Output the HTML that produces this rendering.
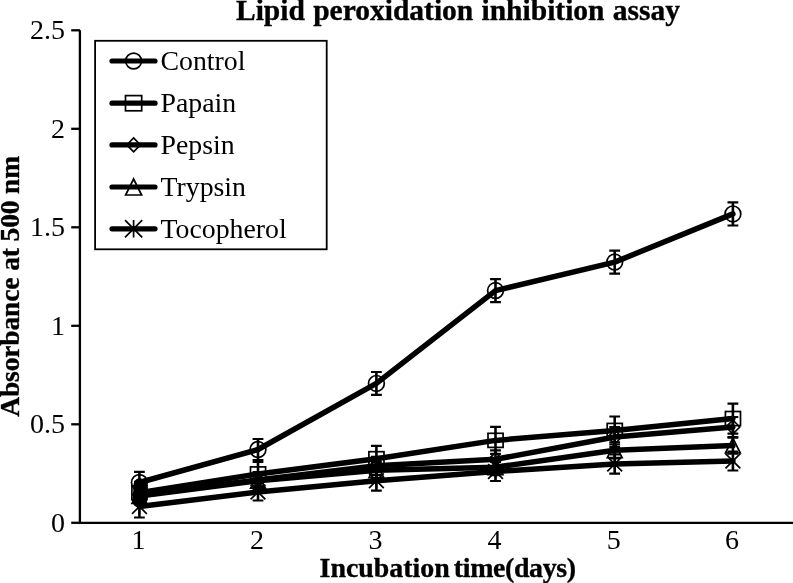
<!DOCTYPE html>
<html><head><meta charset="utf-8"><title>Lipid peroxidation inhibition assay</title>
<style>
html,body{margin:0;padding:0;background:#fff;}
svg{display:block;}
text{font-family:"Liberation Serif","Times New Roman",serif;fill:#000;}
.b{font-weight:bold;}
</style></head><body>
<svg width="793" height="583" viewBox="0 0 793 583">
<rect width="793" height="583" fill="#fff"/>

<text class="b" x="236" y="19.8" font-size="29.5" word-spacing="0.9" stroke="#000" stroke-width="0.35">Lipid peroxidation inhibition assay</text>
<text class="b" x="319.6" y="577.3" font-size="27.9" stroke="#000" stroke-width="0.35">Incubation</text>
<text class="b" x="453.8" y="577.3" font-size="27.9" textLength="122.3" lengthAdjust="spacing" stroke="#000" stroke-width="0.35">time(days)</text>
<text class="b" transform="translate(19.2 416.8) rotate(-90)" font-size="27.5" textLength="261" lengthAdjust="spacing" stroke="#000" stroke-width="0.35">Absorbance at 500 nm</text>
<path d="M79.9 30.3V522.8H793" fill="none" stroke="#000" stroke-width="2.3"/>
<path d="M71.2 522.8H80" stroke="#000" stroke-width="2.3"/>
<text x="65" y="531.8" font-size="28" text-anchor="end">0</text>
<path d="M71.2 424.3H80" stroke="#000" stroke-width="2.3"/>
<text x="65" y="433.3" font-size="28" text-anchor="end">0.5</text>
<path d="M71.2 325.8H80" stroke="#000" stroke-width="2.3"/>
<text x="65" y="334.8" font-size="28" text-anchor="end">1</text>
<path d="M71.2 227.3H80" stroke="#000" stroke-width="2.3"/>
<text x="65" y="236.3" font-size="28" text-anchor="end">1.5</text>
<path d="M71.2 128.8H80" stroke="#000" stroke-width="2.3"/>
<text x="65" y="137.8" font-size="28" text-anchor="end">2</text>
<path d="M71.2 30.3H80" stroke="#000" stroke-width="2.3"/>
<text x="65" y="39.3" font-size="28" text-anchor="end">2.5</text>
<text x="138.4" y="549.2" font-size="28" text-anchor="middle">1</text>
<text x="257.0" y="549.2" font-size="28" text-anchor="middle">2</text>
<text x="375.4" y="549.2" font-size="28" text-anchor="middle">3</text>
<text x="494.5" y="549.2" font-size="28" text-anchor="middle">4</text>
<text x="613.7" y="549.2" font-size="28" text-anchor="middle">5</text>
<text x="731.9" y="549.2" font-size="28" text-anchor="middle">6</text>
<polyline points="139.4,482.5 258.0,449.5 376.4,383.4 495.5,290.6 614.7,262.1 732.9,213.9" fill="none" stroke="#000" stroke-width="5.5" stroke-linejoin="round" stroke-linecap="round"/>
<polyline points="139.4,492.8 258.0,474.0 376.4,458.8 495.5,440.4 614.7,430.5 732.9,418.6" fill="none" stroke="#000" stroke-width="5.5" stroke-linejoin="round" stroke-linecap="round"/>
<polyline points="139.4,494.5 258.0,480.0 376.4,465.8 495.5,459.3 614.7,437.0 732.9,427.0" fill="none" stroke="#000" stroke-width="5.5" stroke-linejoin="round" stroke-linecap="round"/>
<polyline points="139.4,496.0 258.0,480.8 376.4,470.2 495.5,467.2 614.7,450.3 732.9,445.6" fill="none" stroke="#000" stroke-width="5.5" stroke-linejoin="round" stroke-linecap="round"/>
<polyline points="139.4,506.5 258.0,492.0 376.4,480.7 495.5,471.5 614.7,464.0 732.9,461.0" fill="none" stroke="#000" stroke-width="5.5" stroke-linejoin="round" stroke-linecap="round"/>
<path d="M139.4 471.8V493.2" fill="none" stroke="#000" stroke-width="2.6"/>
<path d="M134.0 471.8H144.8M134.0 493.2H144.8" fill="none" stroke="#000" stroke-width="2.2"/>
<circle cx="139.4" cy="482.5" r="7.9" fill="none" stroke="#000" stroke-width="1.7"/>
<path d="M258.0 439.0V460.0" fill="none" stroke="#000" stroke-width="2.6"/>
<path d="M252.6 439.0H263.4M252.6 460.0H263.4" fill="none" stroke="#000" stroke-width="2.2"/>
<circle cx="258.0" cy="449.5" r="7.9" fill="none" stroke="#000" stroke-width="1.7"/>
<path d="M376.4 372.0V394.8" fill="none" stroke="#000" stroke-width="2.6"/>
<path d="M371.0 372.0H381.8M371.0 394.8H381.8" fill="none" stroke="#000" stroke-width="2.2"/>
<circle cx="376.4" cy="383.4" r="7.9" fill="none" stroke="#000" stroke-width="1.7"/>
<path d="M495.5 279.1V302.1" fill="none" stroke="#000" stroke-width="2.6"/>
<path d="M490.1 279.1H500.9M490.1 302.1H500.9" fill="none" stroke="#000" stroke-width="2.2"/>
<circle cx="495.5" cy="290.6" r="7.9" fill="none" stroke="#000" stroke-width="1.7"/>
<path d="M614.7 250.6V273.6" fill="none" stroke="#000" stroke-width="2.6"/>
<path d="M609.3 250.6H620.1M609.3 273.6H620.1" fill="none" stroke="#000" stroke-width="2.2"/>
<circle cx="614.7" cy="262.1" r="7.9" fill="none" stroke="#000" stroke-width="1.7"/>
<path d="M732.9 202.3V225.5" fill="none" stroke="#000" stroke-width="2.6"/>
<path d="M727.5 202.3H738.3M727.5 225.5H738.3" fill="none" stroke="#000" stroke-width="2.2"/>
<circle cx="732.9" cy="213.9" r="7.9" fill="none" stroke="#000" stroke-width="1.7"/>
<path d="M139.4 481.8V503.8" fill="none" stroke="#000" stroke-width="2.6"/>
<path d="M134.0 481.8H144.8M134.0 503.8H144.8" fill="none" stroke="#000" stroke-width="2.2"/>
<rect x="131.9" y="485.7" width="15.1" height="14.1" fill="none" stroke="#000" stroke-width="1.7"/>
<path d="M258.0 462.0V486.0" fill="none" stroke="#000" stroke-width="2.6"/>
<path d="M252.6 462.0H263.4M252.6 486.0H263.4" fill="none" stroke="#000" stroke-width="2.2"/>
<rect x="250.5" y="466.9" width="15.1" height="14.1" fill="none" stroke="#000" stroke-width="1.7"/>
<path d="M376.4 445.8V471.8" fill="none" stroke="#000" stroke-width="2.6"/>
<path d="M371.0 445.8H381.8M371.0 471.8H381.8" fill="none" stroke="#000" stroke-width="2.2"/>
<rect x="368.9" y="451.7" width="15.1" height="14.1" fill="none" stroke="#000" stroke-width="1.7"/>
<path d="M495.5 426.9V453.9" fill="none" stroke="#000" stroke-width="2.6"/>
<path d="M490.1 426.9H500.9M490.1 453.9H500.9" fill="none" stroke="#000" stroke-width="2.2"/>
<rect x="488.0" y="433.3" width="15.1" height="14.1" fill="none" stroke="#000" stroke-width="1.7"/>
<path d="M614.7 416.5V444.5" fill="none" stroke="#000" stroke-width="2.6"/>
<path d="M609.3 416.5H620.1M609.3 444.5H620.1" fill="none" stroke="#000" stroke-width="2.2"/>
<rect x="607.2" y="423.4" width="15.1" height="14.1" fill="none" stroke="#000" stroke-width="1.7"/>
<path d="M732.9 403.6V433.6" fill="none" stroke="#000" stroke-width="2.6"/>
<path d="M727.5 403.6H738.3M727.5 433.6H738.3" fill="none" stroke="#000" stroke-width="2.2"/>
<rect x="725.4" y="411.5" width="15.1" height="14.1" fill="none" stroke="#000" stroke-width="1.7"/>
<path d="M139.4 486.5V502.5" fill="none" stroke="#000" stroke-width="2.6"/>
<path d="M134.0 486.5H144.8M134.0 502.5H144.8" fill="none" stroke="#000" stroke-width="2.2"/>
<path d="M139.4 487.5L146.2 494.5L139.4 501.5L132.6 494.5Z" fill="none" stroke="#000" stroke-width="1.7"/>
<path d="M258.0 472.0V488.0" fill="none" stroke="#000" stroke-width="2.6"/>
<path d="M252.6 472.0H263.4M252.6 488.0H263.4" fill="none" stroke="#000" stroke-width="2.2"/>
<path d="M258.0 473.0L264.8 480.0L258.0 487.0L251.2 480.0Z" fill="none" stroke="#000" stroke-width="1.7"/>
<path d="M376.4 456.8V474.8" fill="none" stroke="#000" stroke-width="2.6"/>
<path d="M371.0 456.8H381.8M371.0 474.8H381.8" fill="none" stroke="#000" stroke-width="2.2"/>
<path d="M376.4 458.8L383.2 465.8L376.4 472.8L369.6 465.8Z" fill="none" stroke="#000" stroke-width="1.7"/>
<path d="M495.5 450.3V468.3" fill="none" stroke="#000" stroke-width="2.6"/>
<path d="M490.1 450.3H500.9M490.1 468.3H500.9" fill="none" stroke="#000" stroke-width="2.2"/>
<path d="M495.5 452.3L502.3 459.3L495.5 466.3L488.7 459.3Z" fill="none" stroke="#000" stroke-width="1.7"/>
<path d="M614.7 427.0V447.0" fill="none" stroke="#000" stroke-width="2.6"/>
<path d="M609.3 427.0H620.1M609.3 447.0H620.1" fill="none" stroke="#000" stroke-width="2.2"/>
<path d="M614.7 430.0L621.5 437.0L614.7 444.0L607.9 437.0Z" fill="none" stroke="#000" stroke-width="1.7"/>
<path d="M732.9 417.0V437.0" fill="none" stroke="#000" stroke-width="2.6"/>
<path d="M727.5 417.0H738.3M727.5 437.0H738.3" fill="none" stroke="#000" stroke-width="2.2"/>
<path d="M732.9 420.0L739.7 427.0L732.9 434.0L726.1 427.0Z" fill="none" stroke="#000" stroke-width="1.7"/>
<path d="M139.4 488.0V504.0" fill="none" stroke="#000" stroke-width="2.6"/>
<path d="M134.0 488.0H144.8M134.0 504.0H144.8" fill="none" stroke="#000" stroke-width="2.2"/>
<path d="M139.4 488.6L146.8 503.4L132.0 503.4Z" fill="none" stroke="#000" stroke-width="1.7"/>
<path d="M258.0 472.8V488.8" fill="none" stroke="#000" stroke-width="2.6"/>
<path d="M252.6 472.8H263.4M252.6 488.8H263.4" fill="none" stroke="#000" stroke-width="2.2"/>
<path d="M258.0 473.4L265.4 488.2L250.6 488.2Z" fill="none" stroke="#000" stroke-width="1.7"/>
<path d="M376.4 462.2V478.2" fill="none" stroke="#000" stroke-width="2.6"/>
<path d="M371.0 462.2H381.8M371.0 478.2H381.8" fill="none" stroke="#000" stroke-width="2.2"/>
<path d="M376.4 462.8L383.8 477.6L369.0 477.6Z" fill="none" stroke="#000" stroke-width="1.7"/>
<path d="M495.5 459.2V475.2" fill="none" stroke="#000" stroke-width="2.6"/>
<path d="M490.1 459.2H500.9M490.1 475.2H500.9" fill="none" stroke="#000" stroke-width="2.2"/>
<path d="M495.5 459.8L502.9 474.6L488.1 474.6Z" fill="none" stroke="#000" stroke-width="1.7"/>
<path d="M614.7 442.3V458.3" fill="none" stroke="#000" stroke-width="2.6"/>
<path d="M609.3 442.3H620.1M609.3 458.3H620.1" fill="none" stroke="#000" stroke-width="2.2"/>
<path d="M614.7 442.9L622.1 457.7L607.3 457.7Z" fill="none" stroke="#000" stroke-width="1.7"/>
<path d="M732.9 437.6V453.6" fill="none" stroke="#000" stroke-width="2.6"/>
<path d="M727.5 437.6H738.3M727.5 453.6H738.3" fill="none" stroke="#000" stroke-width="2.2"/>
<path d="M732.9 438.2L740.3 453.0L725.5 453.0Z" fill="none" stroke="#000" stroke-width="1.7"/>
<path d="M139.4 495.5V517.5" fill="none" stroke="#000" stroke-width="2.6"/>
<path d="M134.0 495.5H144.8M134.0 517.5H144.8" fill="none" stroke="#000" stroke-width="2.2"/>
<path d="M139.4 499.0V514.0M132.0 499.1L146.8 513.9M146.8 499.1L132.0 513.9" fill="none" stroke="#000" stroke-width="1.7"/>
<path d="M258.0 483.5V500.5" fill="none" stroke="#000" stroke-width="2.6"/>
<path d="M252.6 483.5H263.4M252.6 500.5H263.4" fill="none" stroke="#000" stroke-width="2.2"/>
<path d="M258.0 484.5V499.5M250.6 484.6L265.4 499.4M265.4 484.6L250.6 499.4" fill="none" stroke="#000" stroke-width="1.7"/>
<path d="M376.4 470.7V490.7" fill="none" stroke="#000" stroke-width="2.6"/>
<path d="M371.0 470.7H381.8M371.0 490.7H381.8" fill="none" stroke="#000" stroke-width="2.2"/>
<path d="M376.4 473.2V488.2M369.0 473.3L383.8 488.1M383.8 473.3L369.0 488.1" fill="none" stroke="#000" stroke-width="1.7"/>
<path d="M495.5 462.0V481.0" fill="none" stroke="#000" stroke-width="2.6"/>
<path d="M490.1 462.0H500.9M490.1 481.0H500.9" fill="none" stroke="#000" stroke-width="2.2"/>
<path d="M495.5 464.0V479.0M488.1 464.1L502.9 478.9M502.9 464.1L488.1 478.9" fill="none" stroke="#000" stroke-width="1.7"/>
<path d="M614.7 454.4V473.6" fill="none" stroke="#000" stroke-width="2.6"/>
<path d="M609.3 454.4H620.1M609.3 473.6H620.1" fill="none" stroke="#000" stroke-width="2.2"/>
<path d="M614.7 456.5V471.5M607.3 456.6L622.1 471.4M622.1 456.6L607.3 471.4" fill="none" stroke="#000" stroke-width="1.7"/>
<path d="M732.9 451.5V470.5" fill="none" stroke="#000" stroke-width="2.6"/>
<path d="M727.5 451.5H738.3M727.5 470.5H738.3" fill="none" stroke="#000" stroke-width="2.2"/>
<path d="M732.9 453.5V468.5M725.5 453.6L740.3 468.4M740.3 453.6L725.5 468.4" fill="none" stroke="#000" stroke-width="1.7"/>
<path d="M133.5 486Q133.5 479 139.4 478Q146.6 479 147 486V501Q146 507 139.4 507.5Q133 507 132.6 501Z" fill="#000"/>
<rect x="95.1" y="40.8" width="231.6" height="208.5" fill="#fff" stroke="#000" stroke-width="1.8"/>
<path d="M112 61H155" stroke="#000" stroke-width="5.2" stroke-linecap="round"/>
<circle cx="133.6" cy="61.0" r="7.9" fill="none" stroke="#000" stroke-width="1.7"/>
<text x="160.5" y="70.4" font-size="27.8">Control</text>
<path d="M112 103.2H155" stroke="#000" stroke-width="5.2" stroke-linecap="round"/>
<rect x="125.5" y="95.6" width="16.2" height="15.2" fill="none" stroke="#000" stroke-width="1.7"/>
<text x="160.5" y="112.0" font-size="27.8">Papain</text>
<path d="M112 144.9H155" stroke="#000" stroke-width="5.2" stroke-linecap="round"/>
<path d="M133.6 137.9L140.4 144.9L133.6 151.9L126.8 144.9Z" fill="none" stroke="#000" stroke-width="1.7"/>
<text x="160.5" y="153.5" font-size="27.8">Pepsin</text>
<path d="M112 187H155" stroke="#000" stroke-width="5.2" stroke-linecap="round"/>
<path d="M133.6 179.0L141.6 195.0L125.6 195.0Z" fill="none" stroke="#000" stroke-width="1.7"/>
<text x="160.5" y="196.0" font-size="27.8">Trypsin</text>
<path d="M112 228.8H155" stroke="#000" stroke-width="5.2" stroke-linecap="round"/>
<path d="M133.6 220.1V237.5M125.0 220.2L142.2 237.4M142.2 220.2L125.0 237.4" fill="none" stroke="#000" stroke-width="1.7"/>
<text x="160.5" y="238.4" font-size="27.8">Tocopherol</text>
</svg></body></html>
